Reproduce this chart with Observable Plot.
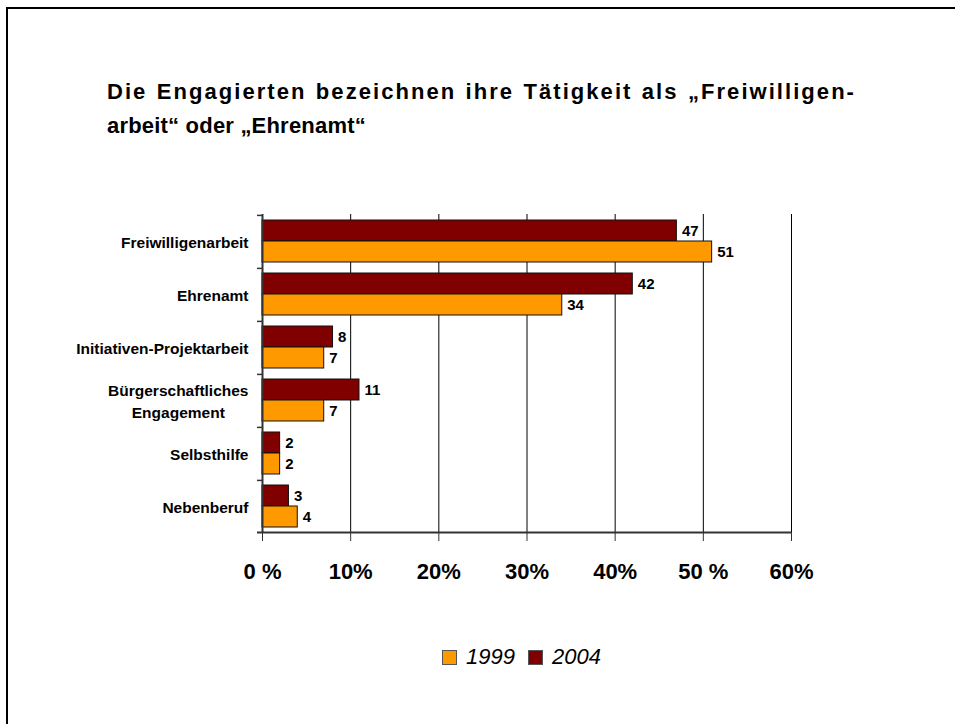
<!DOCTYPE html>
<html>
<head>
<meta charset="utf-8">
<script src="https://cdn.jsdelivr.net/npm/d3@7"></script>
<script src="https://cdn.jsdelivr.net/npm/@observablehq/plot@0.6"></script>
<style>
  html, body { margin: 0; padding: 0; background: #fff; }
  body { width: 955px; height: 724px; position: relative; overflow: hidden; font-family: "Liberation Sans", Arial, sans-serif; }
  #frame { position: absolute; left: 6px; top: 7px; width: 980px; height: 760px; border-left: 2px solid #000; border-top: 2px solid #000; }
  #title { position: absolute; left: 107px; top: 75px; font-size: 22px; line-height: 34px; font-weight: bold; color: #000; white-space: nowrap; }
  #title .l1 { display: block; width: 749px; letter-spacing: 2.05px; text-align: justify; text-align-last: justify; white-space: normal; }
  #title .l2 { display: block; letter-spacing: 0.2px; }
  #chart { position: absolute; left: 0; top: 0; }
  #legend { position: absolute; left: 442px; top: 644px; font-size: 22px; font-style: italic; line-height: 26px; white-space: nowrap; color: #000; display: flex; align-items: center; }
  .sw { display: inline-block; width: 13px; height: 13px; border: 1px solid #555; margin-right: 9px; }
  .item { display: flex; align-items: center; margin-right: 13px; }
</style>
</head>
<body>
<div id="frame"></div>
<div id="title"><span class="l1">Die Engagierten bezeichnen ihre Tätigkeit als „Freiwilligen-</span><span class="l2">arbeit“ oder „Ehrenamt“</span></div>
<div id="chart"></div>
<div id="legend"></div>
<script>
const categories = ["Freiwilligenarbeit", "Ehrenamt", "Initiativen-Projektarbeit", "Bürgerschaftliches Engagement", "Selbsthilfe", "Nebenberuf"];
const categoryLabels = ["Freiwilligenarbeit", "Ehrenamt", "Initiativen-Projektarbeit", "Bürgerschaftliches\nEngagement", "Selbsthilfe", "Nebenberuf"];
const years = ["2004", "1999"];
const values1999 = [51, 34, 7, 7, 2, 4];
const values2004 = [47, 42, 8, 11, 2, 3];
const xTicks = [0, 10, 20, 30, 40, 50, 60];
const xTickLabels = ["0 %", "10%", "20%", "30%", "40%", "50 %", "60%"];
const colors = {"1999": "#FF9900", "2004": "#800000"};
const legendOrder = ["1999", "2004"];

const rows = [];
categories.forEach((c, i) => {
  rows.push({cat: c, year: "2004", value: values2004[i]});
  rows.push({cat: c, year: "1999", value: values1999[i]});
});

const width = 955, height = 620;
const marginTop = 213, marginBottom = 88, marginLeft = 262, marginRight = 164;
const facetH = (height - marginTop - marginBottom) / categories.length;
const padOuter = 0.21;
const step = facetH / (2 + 2 * padOuter);
const toEdge = step / 2 + padOuter * step;
const font = "'Liberation Sans', Arial, sans-serif";

const plot = Plot.plot({
  width, height, marginTop, marginBottom, marginLeft, marginRight,
  style: {fontFamily: font, background: "transparent", overflow: "visible"},
  x: {domain: [0, 60], axis: null},
  y: {domain: years, paddingInner: 0, paddingOuter: padOuter, axis: null},
  fy: {domain: categories, padding: 0, axis: null},
  color: {domain: Object.keys(colors), range: Object.values(colors)},
  marks: [
    Plot.ruleX(xTicks.filter(d => d > 0), {stroke: "#000", strokeWidth: 1}),
    Plot.barX(rows, {fy: "cat", y: "year", x: "value", fill: d => colors[d.year], stroke: "#111", strokeWidth: 1}),
    Plot.ruleX([0], {stroke: "#333", strokeWidth: 2}),
    Plot.ruleY(categories, {fy: d => d, y: () => "2004", x1: 0, x2: 0, insetLeft: -5, dy: -toEdge, stroke: "#333", strokeWidth: 1.5}),
    Plot.ruleY(categories.slice(-1), {fy: d => d, y: () => "1999", x1: 0, x2: 60, insetLeft: -5, dy: toEdge, stroke: "#333", strokeWidth: 2}),
    Plot.text(rows, {fy: "cat", y: "year", x: "value", text: d => String(d.value), textAnchor: "start", dx: 5, fontSize: 15, fontWeight: "bold", fill: "#000"}),
    Plot.axisFy({anchor: "left", tickSize: 0, tickPadding: 14, fontSize: 15.5, fontWeight: "bold", lineHeight: 1.42, tickFormat: d => categoryLabels[categories.indexOf(d)], fill: "#000", label: null}),
    Plot.axisX({ticks: xTicks, tickSize: 9, tickPadding: 22, tickFormat: d => xTickLabels[xTicks.indexOf(d)], fontSize: 22, fontWeight: "bold", stroke: "#333", fill: "#000", label: null})
  ]
});
document.getElementById("chart").appendChild(plot);

// center the lines of multi-line category labels
plot.querySelectorAll("text").forEach(t => {
  const ts = t.querySelectorAll("tspan");
  if (ts.length > 1) {
    const w = t.getBBox().width;
    t.setAttribute("text-anchor", "middle");
    ts.forEach(s => s.setAttribute("x", -w / 2));
  }
});

const legend = document.getElementById("legend");
legendOrder.forEach(y => {
  const it = document.createElement("span");
  it.className = "item";
  const sw = document.createElement("span");
  sw.className = "sw";
  sw.style.background = colors[y];
  it.appendChild(sw);
  it.appendChild(document.createTextNode(y));
  legend.appendChild(it);
});
</script>
</body>
</html>
